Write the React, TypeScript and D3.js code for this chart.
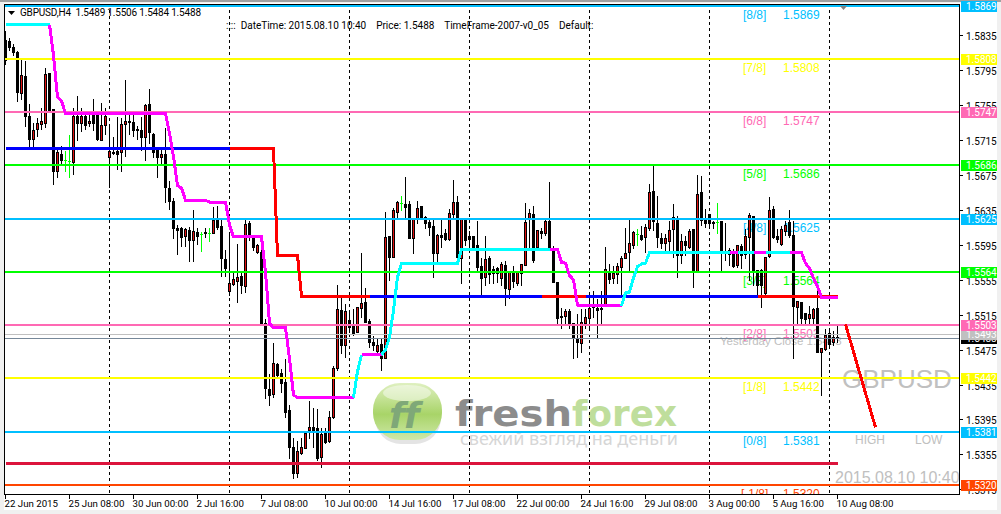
import { useEffect, useRef } from "react";
import * as d3 from "d3";

// open, high, low, close per H4 bar
const candles: number[][] = [
  [1.5829,1.5841,1.5802,1.5807],[1.5828,1.5833,1.5818,1.5822],[1.5822,1.5826,1.5812,1.5816],[1.5816,1.5818,1.5760,1.5770],
  [1.5769,1.5810,1.5762,1.5789],[1.5788,1.5807,1.5731,1.5743],[1.5742,1.5757,1.5707,1.5716],[1.5716,1.5736,1.5705,1.5726],
  [1.5728,1.5741,1.5720,1.5734],[1.5733,1.5753,1.5728,1.5737],[1.5734,1.5799,1.5730,1.5790],[1.5792,1.5793,1.5747,1.5748],
  [1.5750,1.5751,1.5665,1.5680],[1.5679,1.5707,1.5673,1.5701],[1.5699,1.5709,1.5688,1.5692],[1.5692,1.5703,1.5680,1.5692],
  [1.5691,1.5722,1.5673,1.5691],[1.5690,1.5753,1.5676,1.5743],[1.5743,1.5767,1.5715,1.5734],[1.5734,1.5753,1.5725,1.5743],
  [1.5743,1.5749,1.5728,1.5732],[1.5734,1.5747,1.5731,1.5737],[1.5748,1.5763,1.5726,1.5734],[1.5747,1.5749,1.5715,1.5716],
  [1.5715,1.5758,1.5715,1.5732],[1.5732,1.5753,1.5722,1.5743],[1.5696,1.5734,1.5661,1.5702],[1.5701,1.5720,1.5699,1.5700],
  [1.5702,1.5743,1.5682,1.5699],[1.5701,1.5741,1.5680,1.5733],[1.5733,1.5785,1.5697,1.5737],[1.5736,1.5745,1.5722,1.5737],
  [1.5736,1.5745,1.5720,1.5727],[1.5728,1.5732,1.5716,1.5727],[1.5727,1.5743,1.5703,1.5718],[1.5718,1.5757,1.5692,1.5755],
  [1.5756,1.5774,1.5711,1.5724],[1.5722,1.5724,1.5695,1.5701],[1.5703,1.5707,1.5673,1.5695],[1.5695,1.5705,1.5688,1.5699],
  [1.5699,1.5730,1.5644,1.5661],[1.5660,1.5669,1.5636,1.5645],[1.5645,1.5650,1.5603,1.5614],[1.5614,1.5619,1.5585,1.5612],
  [1.5614,1.5617,1.5594,1.5604],[1.5605,1.5615,1.5594,1.5613],[1.5612,1.5616,1.5577,1.5601],[1.5601,1.5636,1.5577,1.5611],
  [1.5610,1.5615,1.5596,1.5605],[1.5607,1.5611,1.5588,1.5607],[1.5610,1.5615,1.5604,1.5608],[1.5609,1.5615,1.5599,1.5609],
  [1.5609,1.5639,1.5608,1.5623],[1.5623,1.5641,1.5613,1.5615],[1.5616,1.5627,1.5559,1.5580],[1.5579,1.5590,1.5559,1.5568],
  [1.5542,1.5608,1.5538,1.5551],[1.5550,1.5566,1.5549,1.5556],[1.5554,1.5597,1.5530,1.5558],[1.5559,1.5566,1.5540,1.5549],
  [1.5548,1.5627,1.5541,1.5619],[1.5620,1.5623,1.5600,1.5604],[1.5604,1.5606,1.5589,1.5592],[1.5587,1.5597,1.5586,1.5595],
  [1.5587,1.5604,1.5505,1.5505],[1.5505,1.5511,1.5420,1.5431],[1.5430,1.5448,1.5412,1.5423],[1.5424,1.5484,1.5421,1.5460],
  [1.5459,1.5461,1.5442,1.5446],[1.5448,1.5454,1.5426,1.5437],[1.5438,1.5465,1.5398,1.5404],[1.5406,1.5413,1.5351,1.5363],
  [1.5363,1.5375,1.5328,1.5334],[1.5334,1.5371,1.5329,1.5359],[1.5357,1.5375,1.5355,1.5363],[1.5362,1.5381,1.5362,1.5380],
  [1.5383,1.5417,1.5374,1.5386],[1.5386,1.5409,1.5363,1.5383],[1.5385,1.5408,1.5349,1.5351],[1.5352,1.5386,1.5341,1.5378],
  [1.5380,1.5386,1.5368,1.5369],[1.5370,1.5406,1.5369,1.5398],[1.5398,1.5457,1.5397,1.5454],[1.5454,1.5550,1.5452,1.5522],
  [1.5520,1.5535,1.5471,1.5480],[1.5480,1.5528,1.5467,1.5519],[1.5509,1.5520,1.5495,1.5501],[1.5503,1.5523,1.5492,1.5494],
  [1.5495,1.5525,1.5495,1.5524],[1.5523,1.5587,1.5512,1.5528],[1.5530,1.5547,1.5507,1.5507],[1.5508,1.5511,1.5478,1.5484],
  [1.5484,1.5492,1.5475,1.5480],[1.5473,1.5490,1.5471,1.5480],[1.5481,1.5488,1.5452,1.5465],[1.5465,1.5634,1.5465,1.5604],
  [1.5605,1.5605,1.5555,1.5581],[1.5581,1.5638,1.5581,1.5635],[1.5633,1.5646,1.5627,1.5644],[1.5643,1.5652,1.5635,1.5643],
  [1.5642,1.5674,1.5627,1.5638],[1.5642,1.5646,1.5603,1.5603],[1.5603,1.5626,1.5586,1.5626],[1.5626,1.5646,1.5620,1.5637],
  [1.5639,1.5641,1.5626,1.5627],[1.5627,1.5629,1.5614,1.5620],[1.5621,1.5626,1.5606,1.5615],[1.5617,1.5627,1.5558,1.5586],
  [1.5586,1.5608,1.5575,1.5606],[1.5606,1.5627,1.5592,1.5604],[1.5608,1.5614,1.5600,1.5602],[1.5602,1.5637,1.5600,1.5631],
  [1.5630,1.5670,1.5627,1.5644],[1.5644,1.5652,1.5581,1.5581],[1.5580,1.5626,1.5551,1.5626],[1.5626,1.5627,1.5595,1.5600],
  [1.5605,1.5612,1.5592,1.5602],[1.5605,1.5606,1.5591,1.5592],[1.5595,1.5623,1.5566,1.5570],[1.5571,1.5581,1.5538,1.5557],
  [1.5558,1.5606,1.5549,1.5579],[1.5580,1.5583,1.5551,1.5562],[1.5567,1.5572,1.5551,1.5563],[1.5568,1.5571,1.5552,1.5563],
  [1.5557,1.5576,1.5549,1.5573],[1.5572,1.5578,1.5526,1.5546],[1.5544,1.5566,1.5534,1.5565],[1.5565,1.5572,1.5547,1.5554],
  [1.5551,1.5566,1.5549,1.5565],[1.5563,1.5574,1.5549,1.5573],[1.5572,1.5644,1.5572,1.5621],[1.5626,1.5637,1.5592,1.5631],
  [1.5630,1.5641,1.5575,1.5578],[1.5592,1.5612,1.5591,1.5612],[1.5611,1.5615,1.5603,1.5608],[1.5608,1.5626,1.5606,1.5622],
  [1.5622,1.5668,1.5591,1.5592],[1.5591,1.5595,1.5552,1.5552],[1.5552,1.5552,1.5505,1.5511],[1.5513,1.5524,1.5500,1.5512],
  [1.5513,1.5523,1.5505,1.5519],[1.5519,1.5523,1.5500,1.5505],[1.5505,1.5505,1.5465,1.5488],[1.5488,1.5517,1.5466,1.5484],
  [1.5483,1.5523,1.5472,1.5507],[1.5505,1.5523,1.5500,1.5512],[1.5511,1.5535,1.5501,1.5523],[1.5526,1.5543,1.5512,1.5524],
  [1.5523,1.5534,1.5488,1.5520],[1.5521,1.5543,1.5503,1.5523],[1.5526,1.5594,1.5526,1.5567],[1.5565,1.5574,1.5551,1.5556],
  [1.5557,1.5572,1.5551,1.5563],[1.5562,1.5575,1.5551,1.5571],[1.5570,1.5583,1.5535,1.5580],[1.5580,1.5615,1.5580,1.5586],
  [1.5587,1.5627,1.5566,1.5597],[1.5595,1.5612,1.5591,1.5610],[1.5607,1.5614,1.5595,1.5607],[1.5606,1.5618,1.5600,1.5602],
  [1.5604,1.5620,1.5587,1.5615],[1.5614,1.5666,1.5612,1.5655],[1.5657,1.5688,1.5612,1.5622],[1.5620,1.5652,1.5592,1.5604],
  [1.5603,1.5610,1.5591,1.5597],[1.5597,1.5608,1.5589,1.5603],[1.5599,1.5623,1.5589,1.5612],[1.5613,1.5643,1.5581,1.5627],
  [1.5626,1.5629,1.5558,1.5583],[1.5583,1.5608,1.5574,1.5599],[1.5599,1.5606,1.5583,1.5595],[1.5592,1.5614,1.5591,1.5611],
  [1.5613,1.5614,1.5547,1.5564],[1.5565,1.5676,1.5564,1.5653],[1.5655,1.5675,1.5618,1.5623],[1.5625,1.5637,1.5615,1.5620],
  [1.5630,1.5631,1.5614,1.5620],[1.5621,1.5623,1.5614,1.5620],[1.5621,1.5644,1.5608,1.5621],[1.5622,1.5623,1.5564,1.5586],
  [1.5588,1.5621,1.5578,1.5586],[1.5589,1.5592,1.5572,1.5584],[1.5586,1.5591,1.5570,1.5571],[1.5572,1.5595,1.5570,1.5595],
  [1.5594,1.5597,1.5568,1.5583],[1.5584,1.5614,1.5580,1.5605],[1.5604,1.5633,1.5555,1.5629],[1.5628,1.5629,1.5549,1.5565],
  [1.5566,1.5567,1.5535,1.5549],[1.5566,1.5568,1.5524,1.5549],[1.5540,1.5581,1.5538,1.5581],[1.5582,1.5651,1.5581,1.5635],
  [1.5636,1.5641,1.5603,1.5604],[1.5605,1.5614,1.5598,1.5602],[1.5596,1.5618,1.5595,1.5613],[1.5611,1.5623,1.5606,1.5618],
  [1.5621,1.5636,1.5604,1.5606],[1.5606,1.5623,1.5465,1.5525],[1.5524,1.5532,1.5505,1.5531],[1.5530,1.5530,1.5505,1.5511],
  [1.5517,1.5518,1.5503,1.5510],[1.5511,1.5526,1.5505,1.5516],[1.5511,1.5524,1.5505,1.5521],[1.5523,1.5543,1.5472,1.5472],
  [1.5472,1.5478,1.5423,1.5477],[1.5476,1.5500,1.5475,1.5492],[1.5494,1.5500,1.5478,1.5482],[1.5484,1.5497,1.5480,1.5489],
  [1.5489,1.5506,1.5484,1.5488],
];

// fast stepped indicator, one value per bar
const fastLine = [
  1.5847,1.5847,1.5847,1.5847,1.5847,1.5847,1.5847,1.5847,1.5847,1.5847,1.5847,1.5847,
  1.5812,1.5764,1.5760,
  1.5745,1.5745,1.5745,1.5745,1.5745,1.5745,1.5745,1.5745,1.5745,1.5745,1.5745,1.5745,1.5745,
  1.5745,1.5745,1.5745,1.5745,1.5745,1.5745,1.5745,1.5745,1.5745,1.5745,1.5745,1.5745,1.5745,
  1.5723,1.5696,1.5663,1.5660,1.5646,1.5646,1.5646,1.5646,1.5646,1.5646,
  1.5644,1.5644,1.5644,1.5644,1.5644,1.5618,
  1.5604,1.5604,1.5604,1.5604,1.5604,1.5604,1.5604,1.5604,
  1.5564,1.5505,1.5500,1.5500,1.5500,1.5500,1.5465,1.5423,
  1.5420,1.5420,1.5420,1.5420,1.5420,1.5420,1.5420,1.5420,1.5420,1.5420,1.5420,1.5420,1.5420,1.5420,1.5420,
  1.5450,1.5469,1.5469,1.5469,1.5469,1.5469,1.5469,1.5475,1.5489,1.5520,1.5558,
  1.5574,1.5574,1.5574,1.5574,1.5574,1.5574,1.5574,1.5574,1.5574,1.5574,1.5574,1.5574,1.5574,1.5574,1.5574,
  1.5590,1.5590,1.5590,1.5590,1.5590,1.5590,1.5590,1.5590,1.5590,1.5590,1.5590,1.5590,1.5590,
  1.5590,1.5590,1.5590,1.5590,1.5590,1.5590,1.5590,1.5590,1.5590,1.5590,1.5590,1.5590,
  1.5575,1.5574,1.5560,1.5555,1.5526,
  1.5525,1.5525,1.5525,1.5525,1.5525,1.5525,1.5525,1.5525,1.5525,1.5525,1.5525,
  1.5540,1.5541,1.5557,1.5570,1.5573,1.5574,
  1.5586,1.5586,1.5586,1.5586,1.5586,1.5586,1.5586,1.5586,1.5586,1.5586,1.5586,1.5586,1.5586,
  1.5586,1.5586,1.5586,1.5586,1.5586,1.5586,1.5586,1.5586,1.5586,1.5586,1.5586,1.5586,1.5586,
  1.5586,1.5586,1.5586,1.5586,1.5586,1.5586,1.5586,1.5586,1.5586,1.5586,1.5586,1.5586,1.5586,
  1.5574,1.5568,1.5557,1.5547,1.5535,1.5535,1.5535,1.5535,1.5535,
];

// slow stepped indicator, one value per bar
const slowLine = [
  ...Array(68).fill(1.5705),
  1.5583,1.5583,1.5583,1.5583,1.5583,1.5583,
  ...Array(135).fill(1.5536),
];

// [first bar, last bar, state]
const fastRuns: [number, number, string][] = [
  [0, 11, "up"], [11, 87, "down"], [87, 89, "up"], [89, 94, "down"], [94, 136, "up"], [136, 154, "down"],
  [154, 181, "up"], [181, 183, "down"], [183, 187, "up"], [187, 190, "down"], [190, 196, "up"], [196, 208, "down"],
];
const slowRuns: [number, number, string][] = [
  [0, 56, "up"], [56, 91, "down"], [91, 134, "up"], [134, 145, "down"], [145, 188, "up"], [188, 208, "down"],
];

const levelPrices = [1.5869, 1.5808, 1.5747, 1.5686, 1.5625, 1.5564, 1.5503, 1.5442, 1.5381, 1.532];
const levelNames = ["[8/8]", "[7/8]", "[6/8]", "[5/8]", "[4/8]", "[3/8]", "[2/8]", "[1/8]", "[0/8]", "[-1/8]"];
const levelColors = ["#00bfff", "#ffff00", "#ff69b4", "#00ff00", "#00bfff", "#00ff00", "#ff69b4", "#ffff00", "#00bfff", "#ff4500"];

const priceTicks = [1.5835, 1.5795, 1.5755, 1.5715, 1.5675, 1.5635, 1.5595, 1.5555, 1.5515, 1.5475, 1.5435, 1.5395, 1.5355, 1.5315];
const timeTickBars = [0, 16, 32, 48, 64, 80, 96, 112, 128, 144, 160, 176, 192, 208];
const timeTickLabels = ["22 Jun 2015", "25 Jun 08:00", "30 Jun 00:00", "2 Jul 16:00", "7 Jul 08:00", "10 Jul 00:00", "14 Jul 16:00", "17 Jul 08:00", "22 Jul 00:00", "24 Jul 16:00", "29 Jul 08:00", "3 Aug 00:00", "5 Aug 16:00", "10 Aug 08:00"];
const separatorBars = [26, 56, 86, 116, 146, 176, 206];

const bidPrice = 1.5488;
const yesterdayClose = 1.5493;
const pivotLine = 1.5345;
const arrowBars = [210, 217.5];
const arrowPrices = [1.5504, 1.5386];

const W = 1001;
const H = 514;
const uiFont = "Roboto, sans-serif";
const arial = "'Liberation Sans', Arial, sans-serif";

const App = () => {
  const ref = useRef<SVGSVGElement>(null);
  useEffect(() => {
    if (!ref.current) return;
    const svg = d3.select(ref.current);
    svg.selectAll("*").remove();
    const m = { t: 4, r: 959, b: 494, l: 4 };

    const x = d3.scaleLinear().domain([0, 238]).range([5.5, 957.5]);
    const y = d3.scaleLinear().domain([1.5869, 1.532]).range([5.5, 485]);
    const snap = (p: number) => Math.round(y(p)) + 0.5;

    const defs = svg.append("defs");
    defs.append("clipPath").attr("id", "plot").append("rect")
      .attr("x", m.l).attr("y", m.t).attr("width", m.r - m.l).attr("height", m.b - m.t);
    const grad = defs.append("linearGradient").attr("id", "ball").attr("x1", 0).attr("y1", 0).attr("x2", 0).attr("y2", 1);
    grad.append("stop").attr("offset", 0).attr("stop-color", "#dff0c0");
    grad.append("stop").attr("offset", 0.55).attr("stop-color", "#a8d468");
    grad.append("stop").attr("offset", 1).attr("stop-color", "#cfe8a8");

    // window chrome and panel
    svg.append("rect").attr("width", W).attr("height", H).attr("fill", "#f0f0f0");
    svg.append("rect").attr("width", W).attr("height", 2).attr("fill", "#a0a0a0");
    svg.append("rect").attr("x", 4).attr("y", 3).attr("width", 993).attr("height", 507).attr("fill", "#fff");

    const plot = svg.append("g").attr("clip-path", "url(#plot)");

    // logo, behind everything
    const logo = plot.append("g");
    logo.append("rect").attr("x", 375).attr("y", 386).attr("width", 66).attr("height", 58).attr("rx", 26)
      .attr("fill", "#e4e4e4");
    logo.append("rect").attr("x", 373).attr("y", 383).attr("width", 69).attr("height", 57).attr("rx", 27)
      .attr("fill", "url(#ball)");
    logo.append("ellipse").attr("cx", 407).attr("cy", 393).attr("rx", 24).attr("ry", 8).attr("fill", "#fff").attr("opacity", 0.45);
    logo.append("text").attr("x", 389).attr("y", 428).attr("font-family", "'DejaVu Sans', sans-serif").attr("font-style", "italic")
      .attr("font-weight", "bold").attr("font-size", 36).attr("letter-spacing", -1).attr("fill", "#7fa878").text("ff");
    logo.append("text").attr("x", 455).attr("y", 426).attr("font-family", "'DejaVu Sans', sans-serif").attr("font-weight", "bold")
      .attr("font-size", 36).attr("fill", "#8c8c8c").attr("textLength", 117).attr("lengthAdjust", "spacingAndGlyphs").text("fresh");
    logo.append("text").attr("x", 572).attr("y", 426).attr("font-family", "'DejaVu Sans', sans-serif").attr("font-weight", "bold")
      .attr("font-size", 36).attr("fill", "#bfde9c").attr("textLength", 105).attr("lengthAdjust", "spacingAndGlyphs").text("forex");
    logo.append("text").attr("x", 460).attr("y", 445).attr("font-family", "'Noto Sans', sans-serif")
      .attr("font-size", 18).attr("fill", "#d6d6d6").attr("textLength", 218).text("свежий взгляд на деньги");

    // text objects sit behind the candles
    levelPrices.forEach((p, i) => {
      const ty = y(p) + 13;
      const c = levelColors[i];
      plot.append("text").attr("x", i === 9 ? 741 : 743).attr("y", ty).attr("font-family", arial).attr("font-size", 12).attr("fill", c).text(levelNames[i]);
      plot.append("text").attr("x", 783).attr("y", ty).attr("font-family", arial).attr("font-size", 12).attr("fill", c).text(p.toFixed(4));
    });
    plot.append("text").attr("x", 720).attr("y", 345).attr("font-family", arial).attr("font-size", 11.5).attr("fill", "#c0c0c0")
      .text(`Yesterday Close ${yesterdayClose.toFixed(4)}`);
    plot.append("text").attr("x", 842).attr("y", 388).attr("font-family", arial).attr("font-size", 26).attr("fill", "#c0c0c0").text("GBPUSD");
    plot.append("text").attr("x", 855).attr("y", 444).attr("font-family", arial).attr("font-size", 12).attr("fill", "#c0c0c0").text("HIGH");
    plot.append("text").attr("x", 915).attr("y", 444).attr("font-family", arial).attr("font-size", 12).attr("fill", "#c0c0c0").text("LOW");
    plot.append("text").attr("x", 835).attr("y", 483).attr("font-family", arial).attr("font-size", 16).attr("fill", "#c0c0c0").text("2015.08.10 10:40");

    // period separators
    separatorBars.forEach((b) => {
      plot.append("line").attr("x1", x(b)).attr("x2", x(b)).attr("y1", m.t).attr("y2", m.b)
        .attr("stroke", "#000").attr("stroke-dasharray", "3,3");
    });

    // candles
    const cg = plot.append("g").attr("shape-rendering", "crispEdges");
    candles.forEach((d, i) => {
      const [o, h, l, c] = d;
      const doji = o === c;
      cg.append("line").attr("x1", x(i)).attr("x2", x(i)).attr("y1", snap(h)).attr("y2", snap(l))
        .attr("stroke", doji ? "#00ff00" : "#000");
      if (doji) {
        cg.append("line").attr("x1", x(i) - 1.5).attr("x2", x(i) + 1.5).attr("y1", snap(o)).attr("y2", snap(o)).attr("stroke", "#00ff00");
        return;
      }
      const top = snap(Math.max(o, c));
      const bot = snap(Math.min(o, c));
      cg.append("rect").attr("x", x(i) - 1).attr("width", 2).attr("y", top).attr("height", Math.max(bot - top, 1))
        .attr("fill", c > o ? "#e01010" : "#000").attr("stroke", "#000");
    });

    // murrey levels and price lines
    const lines = plot.append("g").attr("shape-rendering", "crispEdges");
    levelPrices.forEach((p, i) => {
      const ly = Math.round(y(p));
      lines.append("line").attr("x1", m.l).attr("x2", m.r).attr("y1", ly).attr("y2", ly)
        .attr("stroke", levelColors[i]).attr("stroke-width", 2);
    });
    lines.append("line").attr("x1", m.l).attr("x2", m.r).attr("y1", snap(yesterdayClose)).attr("y2", snap(yesterdayClose)).attr("stroke", "#c0c0c0");
    lines.append("line").attr("x1", m.l).attr("x2", m.r).attr("y1", snap(bidPrice)).attr("y2", snap(bidPrice)).attr("stroke", "#778899");

    // indicators
    const path = d3.line<number>().x((_, i) => x(i)).y((d) => y(d)).defined((d) => d !== null);
    const drawRuns = (vals: number[], runs: [number, number, string][], up: string, down: string) => {
      runs.forEach(([a, b, s]) => {
        const part = vals.map((v, i) => (i >= a && i <= b ? v : (null as unknown as number)));
        lines.append("path").attr("d", path(part)).attr("fill", "none")
          .attr("stroke", s === "up" ? up : down).attr("stroke-width", 3);
      });
    };
    drawRuns(slowLine, slowRuns, "#0000ff", "#ff0000");
    drawRuns(fastLine, fastRuns, "#00ffff", "#ff00ff");
    lines.append("line").attr("x1", x(0)).attr("x2", x(208)).attr("y1", y(pivotLine)).attr("y2", y(pivotLine))
      .attr("stroke", "#dc143c").attr("stroke-width", 3);
    plot.append("line").attr("x1", x(arrowBars[0])).attr("x2", x(arrowBars[1])).attr("y1", y(arrowPrices[0])).attr("y2", y(arrowPrices[1]))
      .attr("stroke", "#ff0000").attr("stroke-width", 3).attr("shape-rendering", "crispEdges");
    plot.append("path").attr("d", "M840,6h7l-3.5,4z").attr("fill", "#808080");

    // frame and axes
    const axes = svg.append("g").attr("shape-rendering", "crispEdges");
    axes.append("line").attr("x1", m.l + 0.5).attr("x2", m.l + 0.5).attr("y1", m.t).attr("y2", m.b + 1).attr("stroke", "#000");
    axes.append("line").attr("x1", m.l).attr("x2", m.r + 1).attr("y1", m.t + 0.5).attr("y2", m.t + 0.5).attr("stroke", "#000");
    axes.append("line").attr("x1", m.r + 0.5).attr("x2", m.r + 0.5).attr("y1", m.t).attr("y2", m.b + 1).attr("stroke", "#000");
    axes.append("line").attr("x1", m.l).attr("x2", m.r + 1).attr("y1", m.b + 0.5).attr("y2", m.b + 0.5).attr("stroke", "#000");

    priceTicks.forEach((p) => {
      const ty = snap(p);
      axes.append("line").attr("x1", m.r).attr("x2", m.r + 4).attr("y1", ty).attr("y2", ty).attr("stroke", "#000");
      svg.append("text").attr("x", 966).attr("y", ty + 4).attr("font-family", uiFont).attr("font-size", 10).attr("fill", "#000").text(p.toFixed(4));
    });
    timeTickBars.forEach((b, i) => {
      axes.append("line").attr("x1", x(b)).attr("x2", x(b)).attr("y1", m.b).attr("y2", m.b + 5).attr("stroke", "#000");
      svg.append("text").attr("x", x(b) - 1).attr("y", 507).attr("font-family", uiFont).attr("font-size", 9.7).attr("fill", "#000").text(timeTickLabels[i]);
    });

    // price labels on the axis
    const tag = (p: number, fill: string) => {
      const cy = Math.round(y(p));
      svg.append("rect").attr("x", 961).attr("y", cy - 5).attr("width", 36).attr("height", 11).attr("fill", fill);
      svg.append("text").attr("x", 966).attr("y", cy + 4).attr("font-family", uiFont).attr("font-size", 10).attr("fill", "#fff").text(p.toFixed(4));
    };
    tag(bidPrice, "#000");
    tag(yesterdayClose, "#c0c0c0");
    levelPrices.forEach((p, i) => tag(p, levelColors[i]));

    // chart header
    svg.append("path").attr("d", "M8,11h7l-3.5,4z").attr("fill", "#000");
    svg.append("text").attr("x", 20).attr("y", 16).attr("font-family", uiFont).attr("font-size", 10).attr("fill", "#000")
      .attr("textLength", 181).attr("xml:space", "preserve").text("GBPUSD,H4  1.5489 1.5506 1.5484 1.5488");
    svg.append("text").attr("x", 226).attr("y", 29).attr("font-family", uiFont).attr("font-size", 10).attr("fill", "#000")
      .text("::::  DateTime: 2015.08.10 10:40    Price: 1.5488    TimeFrame-2007-v0_05    Default: ").attr("xml:space", "preserve");
  }, []);
  return (
    <>
      <style>{"body{margin:0}"}</style>
      <svg ref={ref} width={W} height={H} style={{ display: "block" }} />
    </>
  );
};

export default App;
